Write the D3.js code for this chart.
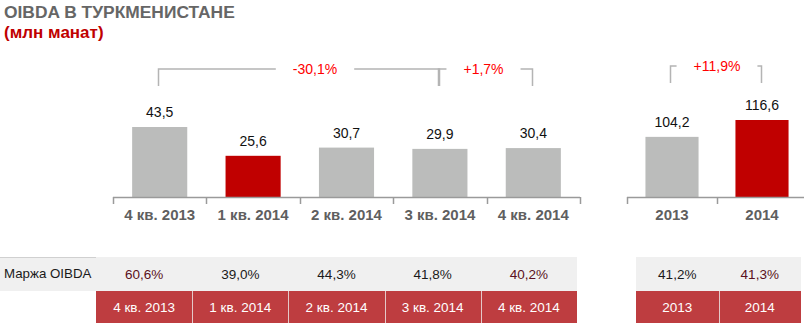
<!DOCTYPE html>
<html><head><meta charset="utf-8">
<script src="https://cdn.jsdelivr.net/npm/d3@7"></script>
<style>body{margin:0;background:#fff}svg{display:block;font-family:Arial,"Liberation Sans",sans-serif}</style>
</head><body><svg id="c" width="804" height="328"></svg>
<script>
const quarters = ["4 кв. 2013","1 кв. 2014","2 кв. 2014","3 кв. 2014","4 кв. 2014"];
const quarterValues = [43.5, 25.6, 30.7, 29.9, 30.4];
const quarterLabels = ["43,5","25,6","30,7","29,9","30,4"];
const quarterMargins = ["60,6%","39,0%","44,3%","41,8%","40,2%"];
const quarterHighlight = [false,true,false,false,false];
const quarterMarginDark = [true,false,false,false,true];
const years = ["2013","2014"];
const yearValues = [104.2, 116.6];
const yearLabels = ["104,2","116,6"];
const yearMargins = ["41,2%","41,3%"];
const yearHighlight = [false,true];
const yearMarginDark = [false,true];
const quarterBrackets = [{from:"4 кв. 2013", to:"3 кв. 2014", label:"-30,1%", shift:16},{from:"3 кв. 2014", to:"4 кв. 2014", label:"+1,7%", shift:-2}];
const yearBrackets = [{from:"2013", to:"2014", label:"+11,9%", shift:1}];

const svg = d3.select("#c");
const GREY="#bbbcbb", RED="#c00000", AXIS="#9a9a9a";

// Title
svg.append("text").attr("x",4).attr("y",18).attr("font-size",17.4).attr("font-weight","bold").attr("fill","#666").text("OIBDA В ТУРКМЕНИСТАНЕ");
svg.append("text").attr("x",4).attr("y",38).attr("font-size",17).attr("font-weight","bold").attr("fill","#c00000").text("(млн манат)");

function panel(cats, vals, labels, hi, xr, yDomain, yRange, brackets, bracketY, bracketTop){
  const x = d3.scaleBand().domain(cats).range(xr).paddingInner(0.41).paddingOuter(0.205);
  const y = d3.scaleLinear().domain(yDomain).range(yRange);
  const g = svg.append("g");
  g.selectAll("rect.bar").data(cats).join("rect").attr("class","bar")
    .attr("x",d=>x(d)).attr("width",x.bandwidth())
    .attr("y",(d,i)=>y(vals[i])).attr("height",(d,i)=>y(yDomain[0])-y(vals[i]))
    .attr("fill",(d,i)=>hi[i]?RED:GREY);
  g.selectAll("text.val").data(cats).join("text").attr("class","val")
    .attr("x",d=>x(d)+x.bandwidth()/2).attr("y",(d,i)=>y(vals[i])-10)
    .attr("text-anchor","middle").attr("font-size",14).attr("fill","#111")
    .text((d,i)=>labels[i]);
  g.append("line").attr("x1",xr[0]).attr("x2",xr[1]).attr("y1",yRange[0]+0.5).attr("y2",yRange[0]+0.5).attr("stroke",AXIS).attr("stroke-width",1.5);
  const edges = cats.map(c=>x(c)-x.step()*x.paddingInner()/2).concat([xr[1]]);
  edges[0]=xr[0];
  g.selectAll("line.tick").data(edges).join("line").attr("class","tick")
    .attr("x1",d=>Math.round(d)+0.5).attr("x2",d=>Math.round(d)+0.5)
    .attr("y1",yRange[0]).attr("y2",yRange[0]+7).attr("stroke",AXIS).attr("stroke-width",1.5);
  g.selectAll("text.cat").data(cats).join("text").attr("class","cat")
    .attr("x",d=>x(d)+x.bandwidth()/2).attr("y",yRange[0]+23)
    .attr("text-anchor","middle").attr("font-size",15).attr("font-weight","bold").attr("fill","#5f5f5f").text(d=>d);
  brackets.forEach(b=>{
    const x1 = Math.round(x(b.from)+x.bandwidth()/2-2)+0.5, x2 = Math.round(x(b.to)+x.bandwidth()/2-1)+0.5;
    const mid = (x1+x2)/2 + b.shift;
    const t = g.append("text").attr("x",mid).attr("y",bracketTop+5).attr("text-anchor","middle")
      .attr("font-size",14).attr("fill","#ff0000").text(b.label);
    const w = t.node().getComputedTextLength();
    const gap = w/2+17;
    g.append("path").attr("fill","none").attr("stroke","#b4b4b4").attr("stroke-width",1.5)
      .attr("d",`M${x1},${bracketY}V${bracketTop}H${mid-gap}M${mid+gap},${bracketTop}H${x2}V${bracketY}`);
  });
  return x;
}

panel(quarters, quarterValues, quarterLabels, quarterHighlight, [113,580], [0,43.5], [197,127], quarterBrackets, 86, 69);
panel(years, yearValues, yearLabels, yearHighlight, [627,807], [60,116.6], [197,120], yearBrackets, 83, 66);

// Table
const rowTop=257, rowMid=291, rowBot=323;
function table(cats, margins, dark, xr){
  const x = d3.scaleBand().domain(cats).range(xr);
  const g = svg.append("g");
  g.append("rect").attr("x",xr[0]).attr("y",rowTop).attr("width",xr[1]-xr[0]).attr("height",rowMid-rowTop).attr("fill","#f0f0f0");
  g.append("rect").attr("x",xr[0]).attr("y",rowMid).attr("width",xr[1]-xr[0]).attr("height",rowBot-rowMid).attr("fill","#be3d40");
  g.selectAll("line.div").data(cats.slice(1)).join("line").attr("class","div")
    .attr("x1",d=>Math.round(x(d))+0.5).attr("x2",d=>Math.round(x(d))+0.5).attr("y1",rowMid).attr("y2",rowBot).attr("stroke","#e4c9c9").attr("stroke-width",1);
  g.selectAll("text.m").data(cats).join("text").attr("class","m")
    .attr("x",d=>x(d)+x.bandwidth()/2).attr("y",rowTop+22).attr("text-anchor","middle").attr("font-size",13.5)
    .attr("fill",(d,i)=>dark[i]?"#5a1020":"#1a1a1a").text((d,i)=>margins[i]);
  g.selectAll("text.h").data(cats).join("text").attr("class","h")
    .attr("x",d=>x(d)+x.bandwidth()/2).attr("y",rowMid+21).attr("text-anchor","middle").attr("font-size",13.5)
    .attr("fill","#fff").text(d=>d);
}
svg.append("rect").attr("x",0).attr("y",rowTop).attr("width",96).attr("height",rowMid-rowTop).attr("fill","#f0f0f0");
svg.append("line").attr("x1",0).attr("x2",96).attr("y1",rowTop+0.5).attr("y2",rowTop+0.5).attr("stroke","#d0d0d0");
svg.append("text").attr("x",4).attr("y",rowTop+21).attr("font-size",13.3).attr("fill","#1a1a1a").text("Маржа OIBDA");
table(quarters, quarterMargins, quarterMarginDark, [96,577]);
table(years, yearMargins, yearMarginDark, [636,801]);
</script></body></html>
